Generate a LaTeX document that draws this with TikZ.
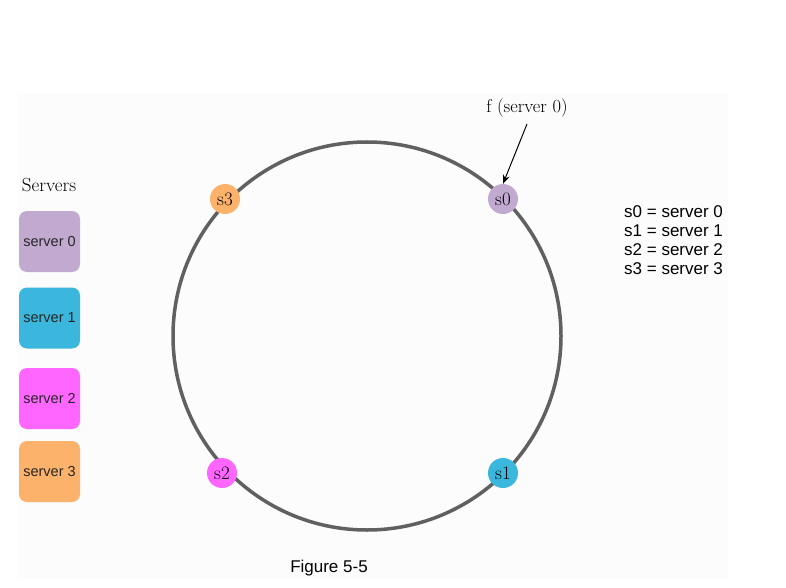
\documentclass[tikz,border=0pt]{standalone}
\usepackage{fontspec}
\newfontfamily\arialfont{Liberation Sans}
\usetikzlibrary{arrows.meta}
\definecolor{bgfaint}{HTML}{FCFCFC}
\definecolor{ringgray}{HTML}{606060}
\definecolor{cpurple}{HTML}{C2A9D0}
\definecolor{ccyan}{HTML}{3BB6DC}
\definecolor{cmagenta}{HTML}{FF66FF}
\definecolor{corange}{HTML}{FDB26B}
\tikzset{
  srvbox/.style={rectangle, rounded corners=8pt, minimum width=61pt, minimum height=61pt, inner sep=0pt, font=\arialfont\fontsize{14.5}{16}\selectfont, text=black!85},
  ringnode/.style={circle, minimum size=30pt, inner sep=0pt, font=\fontsize{19}{20}\selectfont},
  legendtxt/.style={font=\arialfont\fontsize{17}{19}\selectfont, align=left, anchor=north west, inner sep=0pt},
}
\begin{document}
\begin{tikzpicture}[x=1pt,y=-1pt]
\useasboundingbox (0,0) rectangle (786,588);
\fill[bgfaint] (18,93) rectangle (728,579);
% ring
\coordinate (c) at (367,336);
\draw[ringgray, line width=3.5pt] (c) circle (194);
% ring nodes
\node[ringnode, fill=cpurple] (s0) at (503,199) {s\oldstylenums{0}};
\node[ringnode, fill=ccyan] (s1) at (503,473) {s\oldstylenums{1}};
\node[ringnode, fill=cmagenta] (s2) at (222,473) {s\oldstylenums{2}};
\node[ringnode, fill=corange] (s3) at (225,199) {s\oldstylenums{3}};
% f label and arrow
\node[font=\fontsize{18.5}{20}\selectfont, inner sep=1pt] (f) at (527,108) {f (server \oldstylenums{0})};
\coordinate (fa) at (527,124);
\draw[-{Stealth[length=9pt,width=7pt]}, line width=1pt] (fa) -- (s0.north);
% Servers legend
\node[font=\fontsize{19}{20}\selectfont] (srvlbl) at (49,185) {Servers};
\node[srvbox, fill=cpurple] (b0) at (49.5,241.5) {server 0};
\node[srvbox, fill=ccyan] (b1) at (49.5,318) {server 1};
\node[srvbox, fill=cmagenta] (b2) at (49.5,398.5) {server 2};
\node[srvbox, fill=corange] (b3) at (49.5,471.5) {server 3};
% mapping text
\node[legendtxt] (map) at (624,205) {s0 = server 0\\s1 = server 1\\s2 = server 2\\s3 = server 3};
% caption
\node[font=\arialfont\fontsize{17}{19}\selectfont] (cap) at (329,568) {Figure 5-5};
\end{tikzpicture}
\end{document}
